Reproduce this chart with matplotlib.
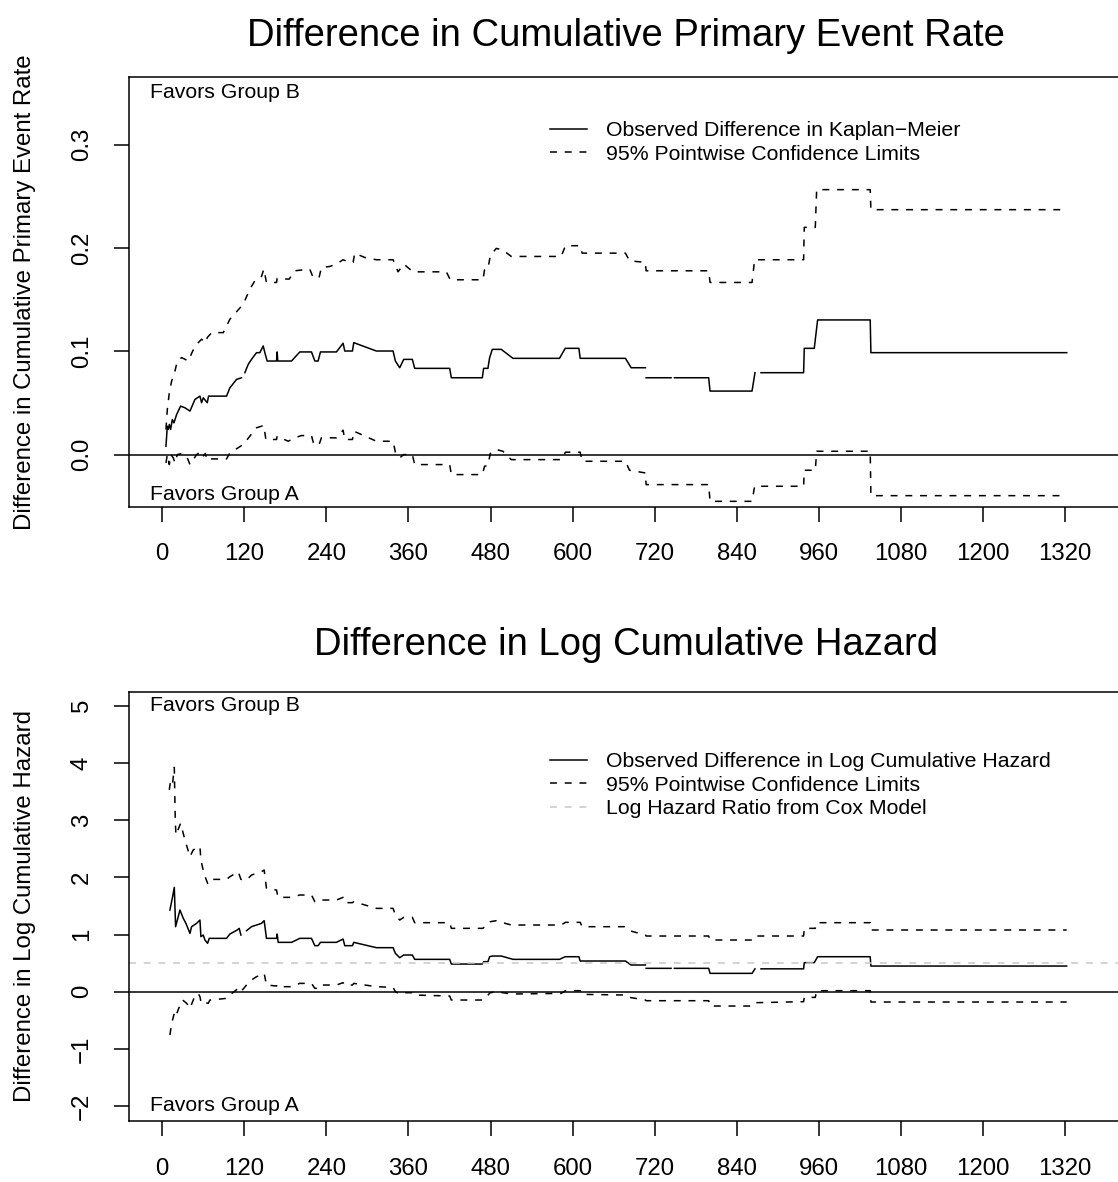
import numpy as np
import matplotlib
matplotlib.use("Agg")
import matplotlib.pyplot as plt

nan = np.nan

# ---- Kaplan-Meier difference (top panel) ----
km_t = [5.4, 7.4, 8.8, 10.3, 12.2, 14.7, 17.1, 21.0, 26.8, 33.2,
        40.5, 47.8, 55.1, 57.5, 59.9, 65.8, 67.7, 94.0, 98.9, 108.6,
        115.9, nan, 120.8, 125.7, 130.5, 137.8, 142.7, 147.6, 150.0, 153.4,
        167.1, 168.0, 168.9, 189.0, 201.1, 218.2, 223.1, 227.9, 231.3, 254.7,
        264.4, 266.9, 278.1, 280.0, 313.1, 337.5, 340.9, 347.2, 353.1, 365.7,
        369.1, 420.3, 422.7, 468.0, 469.9, 476.2, 478.7, 482.6, 495.7, 512.8,
        580.9, 589.2, 609.2, 611.1, 677.3, 685.6, 706.5, nan, 707.5, 744.0,
        nan, 748.9, 799.0, 801.0, 862.4, 866.7, nan, 875.5, 937.8, 938.8,
        953.4, 958.3, 1035.2, 1036.2, 1322.5]
km_diff = [.0081, .0275, .0243, .0291, .0243, .034, .0307, .0388, .0469, .0453,
           .0421, .0534, .0566, .0502, .055, .0502, .0566, .0566, .0647, .0728,
           .0744, nan, .0793, .0874, .0922, .0987, .0987, .1052, .0987, .0906,
           .0906, .0994, .0906, .0906, .0994, .0994, .0906, .0906, .0994, .0994,
           .1078, .1003, .1003, .1084, .1003, .1003, .0906, .0841, .0922, .0922,
           .0835, .0835, .0744, .0744, .0835, .0835, .0939, .1019, .1019, .0932,
           .0932, .1029, .1029, .0932, .0932, .0841, .0841, nan, .0744, .0744,
           nan, .0744, .0744, .0615, .0615, .0793, nan, .0793, .0793, .1029,
           .1029, .1304, .1304, .0987, .0987]

km_up_t = [5.4, 7.4, 10.3, 13.7, 18.6, 22.0, 28.4, 38.1, 44.5, 50.3,
           57.5, 63.9, 65.8, 72.2, 89.2, 98.9, 118.4, 128.1, 136.8, 145.1,
           148.5, 152.4, 167.1, 168.0, 185.5, 193.8, 215.7, 220.6, 229.3, 232.7,
           244.9, 254.7, 264.4, 274.1, 279.0, 281.4, 296.0, 313.1, 337.5, 344.8,
           353.1, 366.7, 415.4, 421.2, 468.9, 471.3, 476.2, 479.6, 488.4, 498.1,
           510.3, 583.3, 589.6, 611.1, 614.0, 677.3, 683.2, 706.5, 707.5, 799.0,
           801.0, 862.4, 866.2, 937.8, 938.8, 954.9, 956.9, 1035.2, 1036.2, 1322.5]
km_up = [.0243, .0437, .0599, .0712, .0809, .0906, .0939, .0906, .1003, .1068,
         .1117, .1084, .1133, .1181, .1181, .1311, .1456, .1602, .1699, .1725,
         .1796, .1667, .1667, .1706, .1699, .178, .1796, .1715, .1715, .1812,
         .1822, .1845, .1887, .1861, .1861, .1951, .1909, .1887, .1887, .177,
         .1845, .177, .177, .1693, .1693, .179, .1796, .1926, .1997, .1981,
         .1919, .1919, .2023, .2023, .1951, .1951, .1877, .1861, .178, .178,
         .1667, .1667, .1887, .1887, .2201, .2201, .2566, .2566, .2372, .2372]

km_lo_t = [5.4, 7.4, 10.3, 12.7, 16.1, 18.6, 22.0, 28.4, 35.7, 40.5,
           50.3, 55.1, 59.0, 62.9, 65.8, 69.7, 94.0, 98.9, 118.4, 128.1,
           137.8, 145.1, 148.5, 151.5, 167.1, 168.0, 184.1, 193.8, 203.6, 218.2,
           221.6, 229.3, 232.7, 254.7, 264.4, 266.9, 278.1, 280.0, 313.1, 337.5,
           340.9, 347.2, 353.1, 365.7, 369.1, 420.3, 422.7, 468.0, 471.3, 476.2,
           479.6, 488.4, 498.1, 510.3, 583.3, 589.6, 611.1, 614.0, 677.3, 683.2,
           706.5, 707.5, 799.0, 801.0, 862.4, 866.2, 937.8, 938.8, 954.9, 956.9,
           1035.2, 1036.2, 1322.5]
km_lo = [-.0081, 0, -.0097, 0, -.0032, -.0081, 0, .001, -.0016, -.0097,
         0, .0023, -.0023, .001, -.0055, -.0042, -.0042, .0016, .0097, .0178,
         .0259, .0275, .0282, .0146, .0146, .0178, .0129, .0162, .0184, .0184,
         .0097, .0097, .0162, .0162, .0236, .0146, .0146, .0227, .0129, .0129,
         .0023, -.0032, 0, 0, -.0097, -.0097, -.0194, -.0194, -.0113, -.0107,
         .001, .0049, .0032, -.0049, -.0049, .0023, .0023, -.0065, -.0065, -.0152,
         -.0178, -.0291, -.0291, -.0453, -.0453, -.0307, -.0307, -.0152, -.0152, .0032,
         .0032, -.0398, -.0398]

# ---- log cumulative hazard difference (bottom panel) ----
lch_t = [11.2, 15.1, 17.6, 19.5, 25.9, 30.7, 34.6, 40.5, 42.9, 50.2,
         55.1, 56.5, 59.9, 62.4, 66.3, 68.7, 94.0, 98.9, 109.6, 112.5,
         115.0, nan, 123.2, 130.5, 137.8, 145.1, 149.0, 152.4, 167.1, 168.0,
         169.5, 189.0, 201.1, 218.2, 223.1, 227.9, 231.3, 254.7, 264.4, 266.9,
         278.1, 280.0, 313.1, 337.5, 340.9, 347.2, 353.1, 365.7, 369.1, 420.3,
         422.7, 468.0, 469.9, 476.2, 478.7, 482.6, 495.7, 512.8, 580.9, 589.2,
         609.2, 611.1, 677.3, 685.6, 706.5, nan, 707.5, 744.0, nan, 748.9,
         799.0, 801.0, 862.4, 866.7, nan, 875.5, 937.8, 938.8, 953.4, 958.3,
         1035.2, 1036.2, 1322.5]
lch_diff = [1.428, 1.661, 1.825, 1.137, 1.428, 1.283, 1.195, 1.020, 1.137, 1.195,
            1.253, 0.962, 0.991, 0.904, 0.846, 0.933, 0.933, 1.009, 1.079, 1.108,
            0.991, nan, 1.067, 1.137, 1.166, 1.195, 1.242, 0.933, 0.933, 1.009,
            0.863, 0.863, 0.933, 0.933, 0.805, 0.805, 0.863, 0.863, 0.921, 0.805,
            0.805, 0.863, 0.770, 0.770, 0.671, 0.595, 0.642, 0.642, 0.566, 0.566,
            0.484, 0.484, 0.525, 0.525, 0.612, 0.624, 0.624, 0.566, 0.566, 0.612,
            0.612, 0.537, 0.537, 0.467, 0.467, nan, 0.409, 0.409, nan, 0.409,
            0.409, 0.321, 0.321, 0.400, nan, 0.400, 0.400, 0.508, 0.508, 0.612,
            0.612, 0.449, 0.449]

lch_up_t = [10.3, 12.2, 15.1, 17.6, 19.0, 20.0, 26.8, 33.2, 40.5, 45.2,
            52.6, 55.1, 56.5, 60.9, 66.3, 68.7, 94.0, 98.9, 111.1, 115.0,
            123.2, 130.5, 137.8, 145.1, 149.0, 152.4, 167.1, 168.0, 169.5, 189.0,
            201.1, 218.2, 223.1, 227.9, 231.3, 254.7, 264.4, 266.9, 278.1, 280.0,
            313.1, 337.5, 340.9, 347.2, 353.1, 365.7, 369.1, 420.3, 422.7, 468.9,
            471.3, 476.2, 479.6, 488.4, 498.1, 510.3, 583.3, 589.6, 611.1, 614.0,
            677.3, 683.2, 706.5, 707.5, 799.0, 801.0, 862.4, 866.2, 937.8, 938.8,
            954.9, 956.9, 1035.2, 1036.2, 1322.5]
lch_up = [3.526, 3.701, 3.643, 3.923, 3.002, 2.740, 2.944, 2.652, 2.361, 2.477,
          2.536, 2.536, 2.302, 2.069, 1.895, 1.964, 1.964, 2.011, 2.098, 1.964,
          1.953, 2.040, 2.069, 2.098, 2.128, 1.807, 1.778, 1.720, 1.650, 1.650,
          1.691, 1.691, 1.574, 1.574, 1.603, 1.603, 1.650, 1.557, 1.557, 1.574,
          1.457, 1.457, 1.341, 1.253, 1.300, 1.300, 1.207, 1.207, 1.108, 1.108,
          1.137, 1.166, 1.224, 1.242, 1.207, 1.166, 1.166, 1.213, 1.213, 1.137,
          1.137, 1.067, 0.991, 0.974, 0.974, 0.904, 0.904, 0.974, 0.974, 1.108,
          1.108, 1.207, 1.207, 1.079, 1.079]

lch_lo_t = [11.2, 13.7, 17.6, 19.5, 25.9, 29.8, 35.7, 40.5, 46.3, 52.6,
            55.1, 56.5, 59.9, 63.8, 67.2, 69.7, 94.0, 98.9, 111.1, 115.0,
            123.2, 130.5, 137.8, 145.1, 149.0, 152.4, 167.1, 168.0, 169.5, 189.0,
            201.1, 218.2, 223.1, 227.9, 231.3, 254.7, 264.4, 266.9, 278.1, 280.0,
            313.1, 337.5, 340.9, 347.2, 353.1, 365.7, 369.1, 420.3, 422.7, 468.0,
            471.3, 476.2, 479.6, 488.4, 498.1, 510.3, 583.3, 589.6, 611.1, 614.0,
            677.3, 683.2, 706.5, 707.5, 799.0, 801.0, 862.4, 866.2, 937.8, 938.8,
            954.9, 956.9, 1035.2, 1036.2, 1322.5]
lch_lo = [-0.757, -0.553, -0.378, -0.437, -0.233, -0.145, -0.203, -0.291, -0.116, -0.029,
          -0.087, -0.174, -0.145, -0.192, -0.203, -0.145, -0.116, -0.058, 0.059, 0.0,
          0.117, 0.205, 0.263, 0.292, 0.321, 0.117, 0.100, 0.117, 0.088, 0.088,
          0.146, 0.146, 0.059, 0.059, 0.117, 0.117, 0.158, 0.117, 0.117, 0.146,
          0.088, 0.076, 0.0, -0.040, -0.017, -0.017, -0.058, -0.075, -0.145, -0.145,
          -0.087, -0.058, -0.017, 0.0, -0.017, -0.040, -0.029, 0.018, 0.018, -0.046,
          -0.058, -0.099, -0.145, -0.157, -0.157, -0.250, -0.250, -0.192, -0.174, -0.099,
          -0.099, 0.018, 0.018, -0.180, -0.180]

cox_loghr = 0.508

x_ticks = list(range(0, 1321, 120))
top_yticks = [0.0, 0.1, 0.2, 0.3]
bot_yticks = [-2, -1, 0, 1, 2, 3, 4, 5]

plt.rcParams["font.family"] = ["Liberation Sans", "DejaVu Sans"]
plt.rcParams["lines.scale_dashes"] = False

W, H = 1118, 1182
fig = plt.figure(figsize=(W / 100, H / 100), dpi=100)


def px_axes(left, top, right, bottom):
    return fig.add_axes([left / W, 1 - bottom / H, (right - left) / W, (bottom - top) / H])


LW = 1.1
DASH = (0, (5.0, 5.6))
TICK_FS = 17.3
SMALL_FS = 15.3


def style_axis(ax, yticks, ylabels):
    ax.set_xlim(-48.2, 1399)
    ax.set_xticks(x_ticks)
    ax.set_yticks(yticks)
    ax.set_yticklabels(ylabels)
    for s in ax.spines.values():
        s.set_linewidth(LW)
    ax.tick_params(direction="out", length=10.8, width=LW, labelsize=TICK_FS, pad=15.5)
    for lab in ax.get_yticklabels():
        lab.set_rotation(90)
        lab.set_va("center")


legend_kw = dict(loc="upper left", frameon=False, fontsize=SMALL_FS, borderaxespad=0,
                 borderpad=0, handlelength=1.75, handletextpad=0.9, labelspacing=0.21)

# top: difference in cumulative event rate
ax1 = px_axes(129.3, 76.7, 1119, 506.7)
ax1.set_ylim(-0.0505, 0.366)
style_axis(ax1, top_yticks, ["0.0", "0.1", "0.2", "0.3"])
ax1.axhline(0, color="black", lw=LW)
ax1.plot(km_t, km_diff, color="black", lw=LW, label="Observed Difference in Kaplan\u2212Meier")
ax1.plot(km_up_t, km_up, color="black", lw=LW, linestyle=DASH,
         label="95% Pointwise Confidence Limits")
ax1.plot(km_lo_t, km_lo, color="black", lw=LW, linestyle=DASH)
ax1.text(0.021, 0.964, "Favors Group B", transform=ax1.transAxes, va="center", fontsize=SMALL_FS)
ax1.text(0.021, 0.028, "Favors Group A", transform=ax1.transAxes, va="center", fontsize=SMALL_FS)
ax1.legend(bbox_to_anchor=(0.4247, 0.896), **legend_kw)

# bottom: difference in log cumulative hazard
ax2 = px_axes(129.3, 691.7, 1119, 1121)
ax2.set_ylim(-2.26, 5.245)
style_axis(ax2, bot_yticks, ["\u22122", "\u22121", "0", "1", "2", "3", "4", "5"])
ax2.axhline(0, color="black", lw=LW)
ax2.plot(lch_t, lch_diff, color="black", lw=LW,
         label="Observed Difference in Log Cumulative Hazard")
ax2.plot(lch_up_t, lch_up, color="black", lw=LW, linestyle=DASH,
         label="95% Pointwise Confidence Limits")
ax2.plot(lch_lo_t, lch_lo, color="black", lw=LW, linestyle=DASH)
ax2.axhline(cox_loghr, color="#c8c8c8", lw=LW, linestyle=DASH, label="Log Hazard Ratio from Cox Model")
ax2.text(0.021, 0.969, "Favors Group B", transform=ax2.transAxes, va="center", fontsize=SMALL_FS)
ax2.text(0.021, 0.037, "Favors Group A", transform=ax2.transAxes, va="center", fontsize=SMALL_FS)
ax2.legend(bbox_to_anchor=(0.4247, 0.859), **legend_kw)

# titles and y labels
fig.text(626 / W, 1 - 36 / H, "Difference in Cumulative Primary Event Rate",
         ha="center", va="center", fontsize=27.5)
fig.text(626 / W, 1 - 645 / H, "Difference in Log Cumulative Hazard",
         ha="center", va="center", fontsize=27.5)
fig.text(25 / W, 1 - 292 / H, "Difference in Cumulative Primary Event Rate",
         ha="center", va="center", rotation=90, fontsize=TICK_FS)
fig.text(25 / W, 1 - 906 / H, "Difference in Log Cumulative Hazard",
         ha="center", va="center", rotation=90, fontsize=TICK_FS)

fig.savefig("out.png", dpi=100)
